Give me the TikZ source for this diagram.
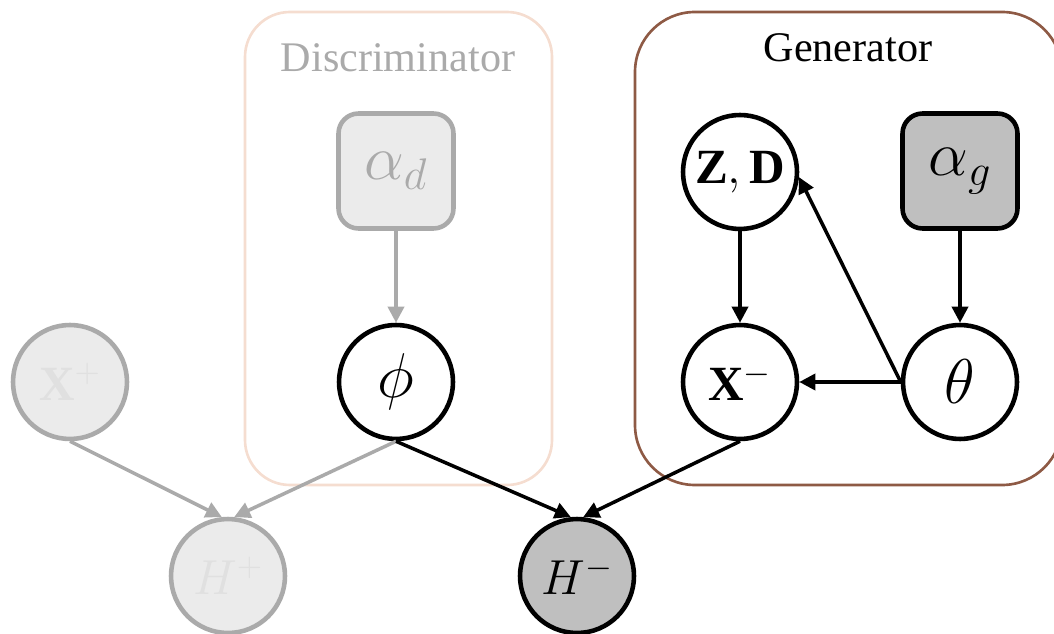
\RequirePackage{fix-cm}
\documentclass[tikz,border=0pt]{standalone}
\usepackage{fontspec}
\setmainfont{Liberation Serif}
\usepackage{amsmath}
\usepackage{xcolor}
\usetikzlibrary{arrows.meta}
\definecolor{discline}{HTML}{F5DDD0}
\definecolor{genline}{HTML}{8E5A45}
\definecolor{fadeline}{HTML}{AAAAAA}
\definecolor{fadefill}{HTML}{EBEBEB}
\definecolor{fadetext}{HTML}{E0E0E0}
\definecolor{obsfill}{HTML}{BFBFBF}

\begin{document}
\begin{tikzpicture}[x = 0.02cm, y = -0.02cm,
		var/.style = {circle, draw, line width = 2.6pt, minimum size = 2.28cm, inner sep = 0pt, font = \fontsize{28}{32}\selectfont},
		hyper/.style = {rectangle, rounded corners = 0.4cm, draw, line width = 2.6pt, minimum size = 2.3cm, inner sep = 0pt},
		greek/.style = {font = \fontsize{36}{40}\selectfont},
		faded/.style = {draw = fadeline, fill = fadefill, text = fadetext},
		edge/.style = {-{Triangle[length = 0.32cm, width = 0.32cm]}, line width = 2pt},
		title/.style = {font = \fontsize{24}{28}\selectfont}];
				\useasboundingbox (0,0) rectangle (1054,634);
				% plates
				\draw[discline, line width = 1.5pt, rounded corners = 0.9cm] (245,12) rectangle (552,485);
				\draw[genline, line width = 1.5pt, rounded corners = 1.2cm] (635,12) rectangle (1062,485);
				\node[title, text = fadeline] (disc) at (398,58) {Discriminator};
				\node[title] (gen) at (848,48) {Generator};
				% nodes
				\node[hyper, greek, faded, text = fadeline] (ad) at (396,171) {$\alpha_d$};
				\node[var, greek, fill = white] (phi) at (396,382) {$\phi$};
				\node[var, faded] (xp) at (70,382) {$\mathbf{X}^+$};
				\node[var, faded] (hp) at (228,576) {$H^+$};
				\node[var, fill = obsfill] (hm) at (577,576) {$H^-$};
				\node[var] (zd) at (740,172) {$\mathbf{Z},\mathbf{D}$};
				\node[hyper, greek, fill = obsfill] (ag) at (960,171) {$\alpha_g$};
				\node[var] (xm) at (740,382) {$\mathbf{X}^-$};
				\node[var, greek] (theta) at (960,382) {$\theta$};
				% edges
				\draw[edge, fadeline] (ad) -- (phi);
				\draw[edge, fadeline] (xp.south) -- (hp.96);
				\draw[edge, fadeline] (phi.south) -- (hp.84);
				\draw[edge] (phi.south) -- (hm.96);
				\draw[edge] (xm.south) -- (hm.84);
				\draw[edge] (zd) -- (xm);
				\draw[edge] (ag) -- (theta);
				\draw[edge] (theta.west) -- (xm);
				\draw[edge] (theta.west) -- (zd.-5);
			\end{tikzpicture}
\end{document}
